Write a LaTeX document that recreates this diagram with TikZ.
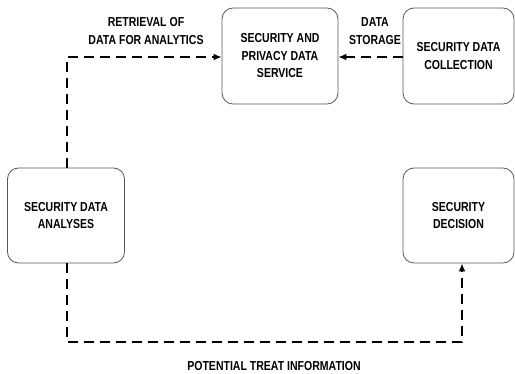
\documentclass[tikz,border=0pt]{standalone}
\usepackage{fontspec}
\setmainfont{Liberation Sans}[FakeStretch=0.81]
\usetikzlibrary{arrows.meta,calc}
\begin{document}
\begin{tikzpicture}[x=1pt,y=-1pt,
  box/.style={draw=black!65,line width=0.8pt,rounded corners=11pt,align=center,
    font=\fontsize{13}{17.5}\selectfont\bfseries,inner sep=0pt},
  lbl/.style={align=center,font=\fontsize{13}{17.5}\selectfont\bfseries,inner sep=0pt},
  flow/.style={line width=1.6pt,dash pattern=on 10pt off 6pt,
    -{Latex[length=8pt,width=7pt]}},
  flowplain/.style={line width=1.6pt,dash pattern=on 10pt off 6pt}]
\useasboundingbox (0,0) rectangle (515,374);
\node[box,minimum width=116pt,minimum height=96pt] (spds) at (280,56)
  {SECURITY AND\\PRIVACY DATA\\SERVICE};
\node[box,minimum width=111pt,minimum height=96pt] (sdc) at (458.5,56)
  {SECURITY DATA\\COLLECTION};
\node[box,minimum width=117pt,minimum height=95pt] (sda) at (66,215.5)
  {SECURITY DATA\\ANALYSES};
\node[box,minimum width=111pt,minimum height=95pt] (sd) at (458.5,215.5)
  {SECURITY\\DECISION};
\node[lbl] (l1) at (146,31) {RETRIEVAL OF\\DATA FOR ANALYTICS};
\node[lbl] (l2) at (375,31) {DATA\\STORAGE};
\node[lbl] (l3) at (274,366) {POTENTIAL TREAT INFORMATION};
\coordinate (c1) at (67,57);
\coordinate (c2) at (67,342);
\coordinate (c3) at (462,342);
\draw[flow] (sda.north -| c1) -- (c1) -- (spds.west |- c1);
\draw[flow] (sdc.west |- c1) -- (spds.east |- c1);
\draw[flow] (sda.south -| c2) -- (c2) -- (c3) -- (sd.south -| c3);
\end{tikzpicture}
\end{document}
